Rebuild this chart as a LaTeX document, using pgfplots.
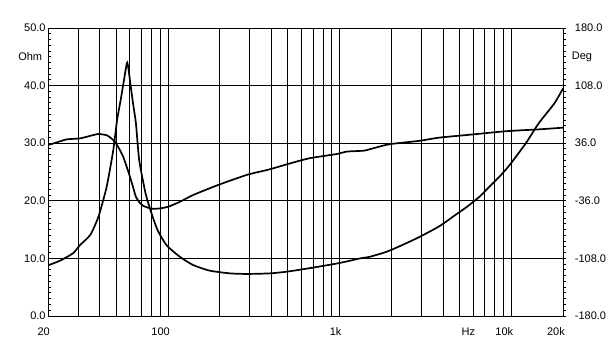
\documentclass[border=0pt]{standalone}
\usepackage{pgfplots}
\pgfplotsset{compat=1.18}
\usepackage{fontspec}
\setmainfont{Liberation Sans}
\begin{document}
\begin{tikzpicture}
\useasboundingbox (0pt,0pt) rectangle (613pt,343pt);
\begin{axis}[
  at={(48pt,27pt)}, anchor=south west, scale only axis,
  width=515pt, height=288pt,
  xmode=log, xmin=20, xmax=20000,
  tick label style={font=\fontsize{11}{13}\selectfont, inner sep=0pt},
  tick align=inside,
  major tick length=0pt,
  ymin=0, ymax=50,
  ytick={0,10,20,30,40,50},
  yticklabels={},
  xtick={20,100,1000,6000,10000,20000},
  xticklabels={20,100,1k,Hz,10k,20k},
  xticklabel style={anchor=north east, xshift=2pt, yshift=-11.5pt},
  extra x ticks={30,40,50,60,70,80,90,200,300,400,500,600,700,800,900,2000,3000,4000,5000,7000,8000,9000},
  extra x tick labels={},
  extra x tick style={grid=major},
  xmajorgrids, ymajorgrids,
  grid style={line width=1pt, black},
  axis line style={line width=1pt, black},
]
\addplot[line width=1.7pt, black, smooth, tension=0.35] coordinates {
(20,8.8) (23.5,9.6) (28,10.9) (30.7,12.3) (35.3,14.1) (39.3,17.2) (43.9,22.4)
(48,28.8) (50.5,34) (53,37.5) (55.3,40.8) (57.9,44.0) (60.4,40.3) (62.5,37) (65,33.5)
(68,27) (74,21.3) (80,17.9) (87,14.9) (98,12.3) (117,10.3) (140,8.85) (175,7.87)
(230,7.4) (288,7.3) (392,7.4) (494,7.7) (667,8.3) (958,9.1) (1150,9.6) (1316,10.0)
(1506,10.3) (1935,11.3) (2818,13.5) (3816,15.6) (4700,17.5) (5539,19.0) (6520,20.7)
(7420,22.4) (8470,24.1) (9770,26.2) (12150,30) (14470,33.5) (17800,36.9) (20000,39.5)
};
\end{axis}
\begin{axis}[
  at={(48pt,27pt)}, anchor=south west, scale only axis,
  width=515pt, height=288pt,
  xmode=log, xmin=20, xmax=20000,
  tick label style={font=\fontsize{11}{13}\selectfont, inner sep=0pt},
  tick align=outside,
  major tick length=-3.5pt, minor tick length=-3.5pt,
  tick style={line width=1pt, black},
  axis x line=none, axis y line*=left,
  y axis line style={-, line width=1pt},
  ymin=0, ymax=50,
  ytick={0,10,20,30,40,50},
  yticklabels={0.0,10.0,20.0,30.0,40.0,50.0},
  minor y tick num=9,
  yticklabel style={anchor=east, xshift=-5.7pt},
  extra y ticks={45}, extra y tick labels={Ohm},
  extra y tick style={major tick length=0pt},
]
\addplot[draw=none] coordinates {(20,0) (20000,0)};
\end{axis}
\begin{axis}[
  at={(48pt,27pt)}, anchor=south west, scale only axis,
  width=515pt, height=288pt,
  xmode=log, xmin=20, xmax=20000,
  tick label style={font=\fontsize{11}{13}\selectfont, inner sep=0pt},
  tick align=outside,
  major tick length=3pt, minor tick length=3pt,
  tick style={line width=1pt, black},
  axis x line=none, axis y line*=right,
  y axis line style={-, line width=1pt},
  ymin=-180, ymax=180,
  ytick={-180,-108,-36,36,108,180},
  yticklabels={-180.0,-108.0,-36.0,36.0,108.0,180.0},
  minor y tick num=9,
  yticklabel style={anchor=west, xshift=8.7pt},
  extra y ticks={144}, extra y tick labels={Deg},
  extra y tick style={major tick length=0pt},
]
\addplot[line width=1.7pt, black, smooth, tension=0.35] coordinates {
(20,33.6) (22.5,37) (25.7,40.8) (30.7,42) (35,45) (39.3,47.5) (43.9,46) (46.5,42.5)
(49,37.9) (52,29) (54.8,19.2) (57.5,6.5) (60,-5.8) (62.5,-18.5) (65,-30.9) (68.5,-38.5)
(72,-42.5) (80,-45.8) (89,-45.6) (100,-43.5) (117,-37.4) (140,-28.8) (196,-16.2)
(288,-3.6) (392,3.4) (494,9.7) (667,17.2) (958,22.4) (1100,25.5) (1378,26.6) (1500,28.5)
(1935,34.6) (2870,38.8) (3816,43) (5539,46.3) (9340,51) (14470,53.3) (20000,55.4)
};
\end{axis}
\end{tikzpicture}
\end{document}
